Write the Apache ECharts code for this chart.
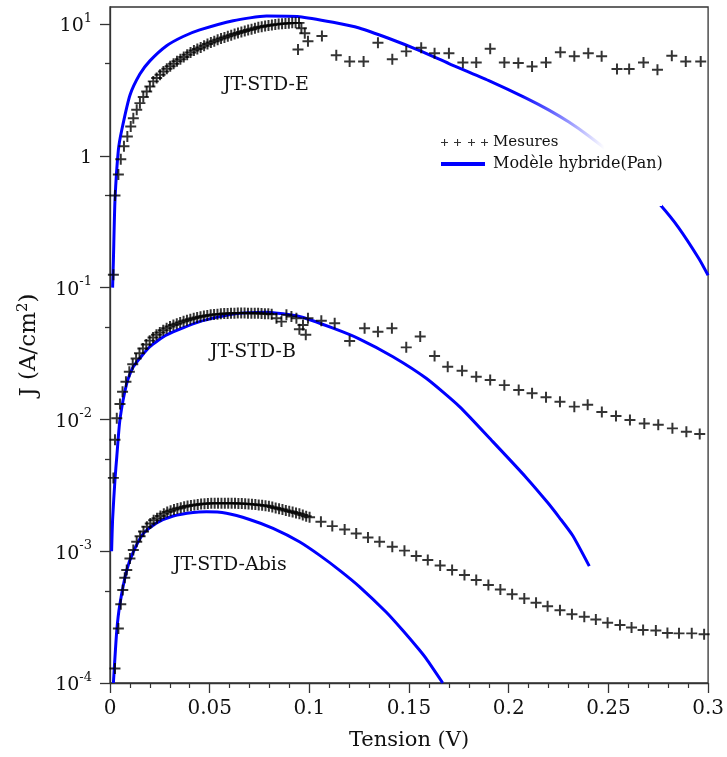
<!DOCTYPE html>
<html><head><meta charset="utf-8">
<script src="https://cdn.jsdelivr.net/npm/echarts@6/dist/echarts.min.js"></script>
<style>html,body{margin:0;padding:0;background:#fff}#c{width:727px;height:757px}</style>
</head><body><div id="c"></div>
<script>
// ---------- data ----------
const xTicks = [0, 0.05, 0.1, 0.15, 0.2, 0.25, 0.3];
const yDecades = [1e-4, 1e-3, 1e-2, 1e-1, 1, 10];
const yMinorTicks = [5e-4, 5e-3, 5e-2, 0.5, 5];
const yMax = 13.46;

const measE_V = [0.0017,0.0025,0.0042,0.0054,0.0070,0.0087,0.0104,0.0117,0.0134,0.0150,0.0167,0.0184,0.0200,0.0217,0.0234,0.0251,0.0268,0.0285,0.0302,0.0319,0.0336,0.0353,0.0370,0.0387,0.0404,0.0421,0.0438,0.0455,0.0472,0.0489,0.0506,0.0523,0.0540,0.0557,0.0574,0.0591,0.0608,0.0625,0.0642,0.0659,0.0676,0.0693,0.0710,0.0727,0.0744,0.0761,0.0778,0.0795,0.0812,0.0829,0.0846,0.0863,0.0880,0.0897,0.0914,0.0931,0.0948,0.0960,0.0977,0.0993,0.0943,0.1063,0.1135,0.1202,0.1272,0.1344,0.1416,0.1486,0.1561,0.1628,0.1700,0.1770,0.1837,0.1907,0.1978,0.2048,0.2117,0.2187,0.2259,0.2329,0.2399,0.2466,0.2543,0.2604,0.2676,0.2746,0.2818,0.2888,0.2963];
const measE_J = [0.125,0.5,0.72,0.94,1.18,1.40,1.67,1.93,2.24,2.51,2.79,3.08,3.36,3.67,3.90,4.12,4.37,4.58,4.78,5.00,5.22,5.41,5.61,5.84,6.07,6.30,6.45,6.64,6.83,7.04,7.23,7.41,7.59,7.75,7.91,8.07,8.23,8.39,8.55,8.71,8.85,8.99,9.14,9.29,9.44,9.55,9.64,9.73,9.82,9.90,9.98,10.05,10.1,10.15,10.2,10.2,10.2,9.3,8.5,7.4,6.4,8.1,5.8,5.2,5.2,7.2,5.4,6.2,6.6,6.0,6.0,5.1,5.1,6.5,5.1,5.05,4.76,5.1,6.1,5.7,6.0,5.7,4.55,4.55,5.1,4.5,5.74,5.2,5.2];

const modE_V = [0.0013,0.0017,0.0025,0.0042,0.0059,0.0100,0.0150,0.0200,0.0284,0.0367,0.0450,0.0618,0.0785,0.0950,0.1119,0.1250,0.1400,0.1550,0.1700,0.1900,0.2087,0.2200,0.2300,0.2400,0.2500,0.2600,0.2763,0.2850,0.2955,0.3000];
const modE_J = [0.1,0.16,0.46,1.11,1.57,2.88,4.17,5.25,6.84,8.04,9.02,10.6,11.48,11.35,10.3,9.33,7.76,6.31,5.01,3.72,2.74,2.23,1.81,1.42,1.08,0.78,0.42,0.288,0.165,0.124];

const measB_V = [0.0017,0.0025,0.0034,0.0050,0.0063,0.0080,0.0097,0.0114,0.0131,0.0148,0.0165,0.0182,0.0199,0.0216,0.0233,0.0250,0.0267,0.0284,0.0301,0.0318,0.0335,0.0352,0.0369,0.0386,0.0403,0.0420,0.0437,0.0454,0.0471,0.0488,0.0505,0.0522,0.0539,0.0556,0.0573,0.0590,0.0607,0.0624,0.0641,0.0658,0.0675,0.0692,0.0709,0.0726,0.0743,0.0760,0.0777,0.0794,0.0811,0.0835,0.0860,0.0885,0.0910,0.0935,0.0950,0.0968,0.0982,0.0993,0.1060,0.1127,0.1202,0.1277,0.1344,0.1414,0.1486,0.1556,0.1628,0.1694,0.1766,0.1837,0.1907,0.1978,0.2050,0.2117,0.2187,0.2257,0.2329,0.2396,0.2467,0.2538,0.2608,0.2680,0.2750,0.2821,0.2891,0.2958];
const measB_J = [0.0036,0.0070,0.0102,0.0131,0.0162,0.0193,0.0230,0.0262,0.0290,0.0318,0.0345,0.0370,0.0396,0.0418,0.0438,0.0456,0.0475,0.0492,0.0507,0.0520,0.0532,0.0544,0.0555,0.0566,0.0576,0.0586,0.0594,0.0601,0.0608,0.0615,0.0621,0.0625,0.0629,0.0632,0.0635,0.0637,0.0639,0.0640,0.0641,0.0641,0.0641,0.0640,0.0640,0.0639,0.0638,0.0636,0.0634,0.0632,0.0628,0.0586,0.0552,0.0621,0.0603,0.0586,0.0483,0.0521,0.0438,0.0586,0.0560,0.0537,0.0394,0.0492,0.0463,0.0492,0.0352,0.0425,0.0303,0.0251,0.0234,0.0211,0.0199,0.0182,0.0167,0.0158,0.0147,0.0136,0.0125,0.0129,0.0114,0.0106,0.0099,0.0093,0.0091,0.00855,0.00806,0.00774];

const modB_V = [0.0008,0.0013,0.0025,0.0034,0.0050,0.0084,0.0117,0.0200,0.0284,0.0450,0.0618,0.0785,0.0950,0.1119,0.1252,0.1419,0.1586,0.1753,0.1920,0.2087,0.2195,0.2254,0.2320,0.2404];
const modB_J = [0.001,0.00174,0.0035,0.0052,0.0100,0.0188,0.0251,0.0356,0.0438,0.0552,0.0631,0.0650,0.0603,0.0492,0.0407,0.0299,0.0205,0.0125,0.00678,0.00363,0.00234,0.00180,0.00132,0.00077];

const measA_V = [0.0025,0.0042,0.0054,0.0064,0.0074,0.0084,0.0100,0.0117,0.0134,0.0151,0.0168,0.0185,0.0202,0.0219,0.0236,0.0253,0.0270,0.0287,0.0304,0.0321,0.0338,0.0355,0.0372,0.0389,0.0406,0.0423,0.0440,0.0457,0.0474,0.0491,0.0508,0.0525,0.0542,0.0559,0.0576,0.0593,0.0610,0.0627,0.0644,0.0661,0.0678,0.0695,0.0712,0.0729,0.0746,0.0763,0.0780,0.0797,0.0814,0.0831,0.0848,0.0865,0.0882,0.0899,0.0916,0.0933,0.0950,0.0967,0.0984,0.1001,0.1058,0.1115,0.1177,0.1235,0.1294,0.1352,0.1416,0.1477,0.1536,0.1594,0.1656,0.1716,0.1778,0.1837,0.1898,0.1958,0.2017,0.2078,0.2137,0.2195,0.2257,0.2317,0.2379,0.2437,0.2496,0.2558,0.2616,0.2674,0.2738,0.2796,0.2854,0.2918,0.2980];
const measA_J = [1.29e-4,2.59e-4,3.96e-4,5.07e-4,6.3e-4,7.2e-4,8.8e-4,1.02e-3,1.18e-3,1.30e-3,1.41e-3,1.53e-3,1.62e-3,1.72e-3,1.78e-3,1.85e-3,1.92e-3,1.98e-3,2.03e-3,2.07e-3,2.11e-3,2.14e-3,2.17e-3,2.20e-3,2.22e-3,2.24e-3,2.26e-3,2.28e-3,2.29e-3,2.30e-3,2.31e-3,2.31e-3,2.31e-3,2.31e-3,2.31e-3,2.31e-3,2.31e-3,2.31e-3,2.30e-3,2.30e-3,2.29e-3,2.28e-3,2.27e-3,2.26e-3,2.24e-3,2.23e-3,2.21e-3,2.19e-3,2.16e-3,2.13e-3,2.10e-3,2.07e-3,2.04e-3,2.01e-3,1.98e-3,1.95e-3,1.92e-3,1.88e-3,1.84e-3,1.81e-3,1.67e-3,1.55e-3,1.46e-3,1.36e-3,1.27e-3,1.18e-3,1.08e-3,1.01e-3,9.2e-4,8.56e-4,7.8e-4,7.19e-4,6.59e-4,6.04e-4,5.54e-4,5.13e-4,4.72e-4,4.38e-4,4.06e-4,3.83e-4,3.57e-4,3.33e-4,3.18e-4,3.03e-4,2.86e-4,2.75e-4,2.64e-4,2.52e-4,2.50e-4,2.40e-4,2.38e-4,2.38e-4,2.34e-4];

const modA_V = [0.0017,0.0034,0.0050,0.0084,0.0117,0.0167,0.0234,0.0317,0.0417,0.0484,0.0584,0.0700,0.0818,0.0950,0.1052,0.1152,0.1252,0.1386,0.1469,0.1548,0.1586,0.1669];
const modA_J = [1.0e-4,2.5e-4,4.0e-4,7.2e-4,9.9e-4,1.36e-3,1.64e-3,1.85e-3,1.97e-3,1.99e-3,1.94e-3,1.74e-3,1.49e-3,1.18e-3,9.3e-4,7.16e-4,5.37e-4,3.44e-4,2.50e-4,1.81e-4,1.53e-4,1.0e-4];

const curveLabels = ['JT-STD-E', 'JT-STD-B', 'JT-STD-Abis'];
const legendNames = ['Mesures', 'Modèle hybride(Pan)'];
// ----------------------------------------------------

const zip = (a, b) => a.map((v, i) => [v, b[i]]);
const FONT = 'DejaVu Serif';
const PLUS = 'path://M0,4.1h10v1.8h-10z M4.1,0h1.8v10h-1.8z';
const PLUS4 = 'path://M0,3h7v1.1h-7z M3,0h1.1v7h-1.1z M13,3h7v1.1h-7z M16,0h1.1v7h-1.1z M27,3h7v1.1h-7z M30,0h1.1v7h-1.1z M40,3h7v1.1h-7z M43,0h1.1v7h-1.1z';

function measSeries(v, j) {
  return { type: 'scatter', name: legendNames[0], data: zip(v, j), symbol: PLUS, symbolSize: 11,
           itemStyle: { color: '#000' }, z: 2, silent: true };
}
function modSeries(v, j) {
  return { type: 'line', name: legendNames[1], data: zip(v, j), showSymbol: false, smooth: 0.2,
           itemStyle: { color: '#0000ff' }, lineStyle: { color: '#0000ff', width: 3 }, z: 2, silent: true };
}

const axisLineStyle = { color: '#333', width: 1.3 };
const chart = echarts.init(document.getElementById('c'), null, { renderer: 'canvas' });
chart.setOption({
  animation: false,
  backgroundColor: '#fff',
  grid: { left: 110, right: 18, top: 7, bottom: 74, show: true, borderColor: '#333', borderWidth: 1.3, backgroundColor: 'transparent' },
  xAxis: {
    type: 'value', min: xTicks[0], max: xTicks[xTicks.length - 1], interval: xTicks[1] - xTicks[0],
    name: 'Tension (V)', nameLocation: 'middle', nameGap: 47,
    nameTextStyle: { fontFamily: FONT, fontSize: 21, color: '#111' },
    axisLine: { lineStyle: axisLineStyle },
    axisTick: { inside: false, length: 10, lineStyle: axisLineStyle },
    minorTick: { show: true, splitNumber: 5, length: 5, lineStyle: { color: '#333', width: 1.2 } },
    splitLine: { show: false },
    axisLabel: { fontFamily: FONT, fontSize: 20, color: '#111', margin: 16 }
  },
  yAxis: [{
    type: 'log', logBase: 10, min: yDecades[0], max: yMax,
    name: 'J (A/cm{sup|2})', nameLocation: 'middle', nameGap: 68, nameRotate: 90,
    nameTextStyle: { fontFamily: FONT, fontSize: 23, color: '#111',
      rich: { sup: { fontFamily: FONT, fontSize: 15, verticalAlign: 'top', padding: [0, 0, 11, 0] } } },
    axisLine: { lineStyle: axisLineStyle },
    axisTick: { inside: false, length: 10, lineStyle: axisLineStyle, customValues: yDecades },
    minorTick: { show: false },
    splitLine: { show: false },
    axisLabel: {
      margin: 18, customValues: yDecades,
      formatter: function (v) {
        const n = Math.round(Math.log10(v));
        if (n === 0) return '{b|1}';
        return '{b|10}{s|' + n + '}';
      },
      rich: {
        b: { fontFamily: FONT, fontSize: 19, color: '#111', lineHeight: 24, verticalAlign: 'bottom' },
        s: { fontFamily: FONT, fontSize: 13, color: '#111', lineHeight: 24, verticalAlign: 'top' }
      }
    }
  }, {
    type: 'log', logBase: 10, min: yDecades[0], max: yMax, position: 'left',
    axisLine: { show: false },
    axisTick: { show: true, inside: false, length: 5, lineStyle: { color: '#333', width: 1.3 }, customValues: yMinorTicks },
    axisLabel: { show: false },
    splitLine: { show: false }
  }],
  legend: [
    { data: [{ name: legendNames[0], icon: PLUS4 }], left: 436, top: 130, itemWidth: 47, itemHeight: 7,
      selectedMode: false, textStyle: { fontFamily: FONT, fontSize: 15, color: '#111' }, z: 6 },
    { data: [{ name: legendNames[1], icon: 'rect' }], left: 436, top: 151, itemWidth: 44, itemHeight: 4,
      selectedMode: false, textStyle: { fontFamily: FONT, fontSize: 16, color: '#111', padding: [0, 0, 0, 3] }, z: 6 }
  ],
  graphic: [
    { type: 'rect', z: 3, silent: true, shape: { x: 518, y: 96, width: 144, height: 110 },
      style: { fill: new echarts.graphic.LinearGradient(0, 0, 1, 0, [
        { offset: 0, color: 'rgba(255,255,255,0)' },
        { offset: 0.6, color: 'rgba(255,255,255,1)' },
        { offset: 1, color: 'rgba(255,255,255,1)' }]) } },
    { type: 'text', z: 5, left: 223, top: 76, style: { text: curveLabels[0], font: '19px "DejaVu Serif"', fill: '#111' } },
    { type: 'text', z: 5, left: 210, top: 343, style: { text: curveLabels[1], font: '19px "DejaVu Serif"', fill: '#111' } },
    { type: 'text', z: 5, left: 173, top: 556, style: { text: curveLabels[2], font: '19px "DejaVu Serif"', fill: '#111' } }
  ],
  series: [
    measSeries(measE_V, measE_J), measSeries(measB_V, measB_J), measSeries(measA_V, measA_J),
    modSeries(modE_V, modE_J), modSeries(modB_V, modB_J), modSeries(modA_V, modA_J)
  ]
});
</script></body></html>
